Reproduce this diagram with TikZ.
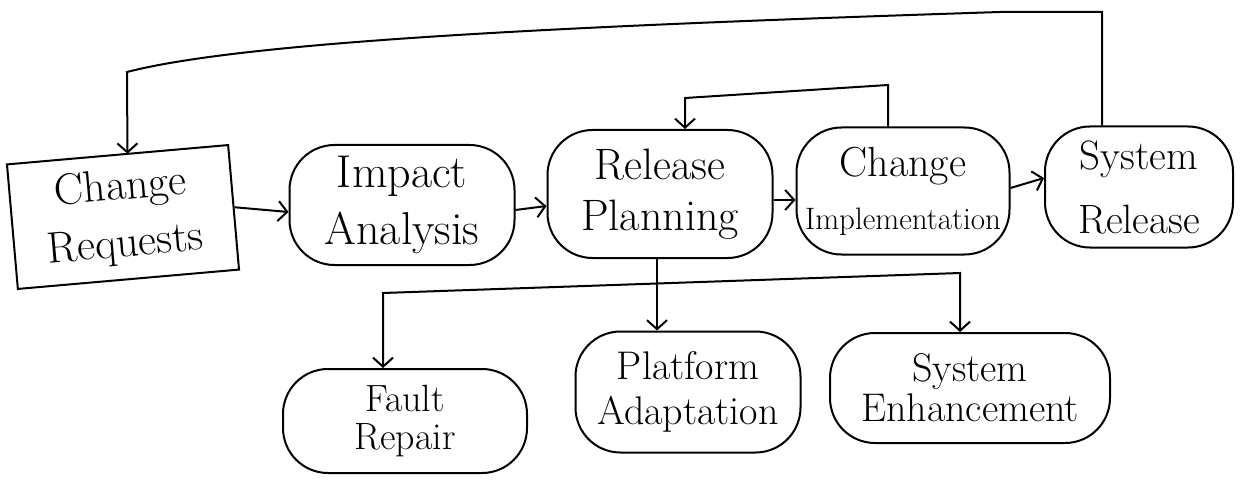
\documentclass[tikz,border=0pt]{standalone}
\usepackage{fontspec}
\usetikzlibrary{arrows.meta}
\begin{document}
\begin{tikzpicture}[x=1pt,y=-1pt,
  line width=2pt,
  stage/.style={draw, rectangle, rounded corners=45pt, align=center, inner sep=0pt},
  request/.style={draw, rectangle, align=center, inner sep=0pt},
  flow/.style={-{Straight Barb[length=9pt,width=20pt]}},
  twoflow/.style={{Straight Barb[length=9pt,width=20pt]}-{Straight Barb[length=9pt,width=20pt]}},
]
\useasboundingbox (0,0) rectangle (1243,484);
\fill[white] (0,0) rectangle (1243,484);

% main process row
\node[request, rotate=5, minimum width=222pt, minimum height=125pt,
      font=\fontsize{44}{57}\selectfont] (cr) at (123,217) {Change\\Requests};
\node[stage, minimum width=225pt, minimum height=120pt,
      font=\fontsize{46}{57}\selectfont] (ia) at (402,205) {Impact\\Analysis};
\node[stage, minimum width=225pt, minimum height=128pt,
      font=\fontsize{44}{51}\selectfont] (rp) at (660,194) {Release\\Planning};
\node[stage, minimum width=213pt, minimum height=127pt,
      font=\fontsize{31}{53}\selectfont] (ci) at (903,191)
      {{\fontsize{42}{53}\selectfont Change}\\Implementation};
\node[stage, minimum width=188pt, minimum height=121pt,
      font=\fontsize{41}{64}\selectfont] (sr) at (1139,187) {System\\Release};

% kinds of change
\node[stage, minimum width=244pt, minimum height=104pt,
      font=\fontsize{38}{38}\selectfont] (fr) at (405,421) {Fault\\Repair};
\node[stage, minimum width=225pt, minimum height=121pt,
      font=\fontsize{40}{45}\selectfont] (pa) at (688,392) {Platform\\Adaptation};
\node[stage, minimum width=280pt, minimum height=110pt,
      font=\fontsize{40}{40}\selectfont] (se) at (970,388) {System\\Enhancement};

% forward flow
\draw[flow] (cr.east) -- ([yshift=-7pt]ia.west);
\draw[flow] ([yshift=-5pt]ia.east) -- ([yshift=-12pt]rp.west);
\draw[flow] ([yshift=-6pt]rp.east) -- ([yshift=-9pt]ci.west);
\draw[flow] ([yshift=3pt]ci.east) -- ([yshift=9pt]sr.west);

% implementation loops back to planning
\coordinate (loopR) at (888,85);
\coordinate (loopL) at (685,98);
\draw[flow] ([xshift=-15pt]ci.north) -- (loopR) -- (loopL) -- ([xshift=25pt]rp.north);

% release feeds new change requests
\coordinate (topR) at (1102,12);
\coordinate (topM) at (1000,12);
\coordinate (topL) at (127,72);
\draw[flow] ([xshift=-37pt]sr.north) -- (topR) -- (topM)
  .. controls (600,25) and (250,40) .. (topL) -- ([xshift=10pt]cr.north);

% planning branches into the kinds of change
\coordinate (brL) at (383,293);
\coordinate (brR) at (960,273);
\draw[flow] ([xshift=-3pt]rp.south) -- ([xshift=-31pt]pa.north);
\draw[twoflow] ([xshift=-22pt]fr.north) -- (brL) -- (brR) -- ([xshift=-10pt]se.north);

\end{tikzpicture}
\end{document}
